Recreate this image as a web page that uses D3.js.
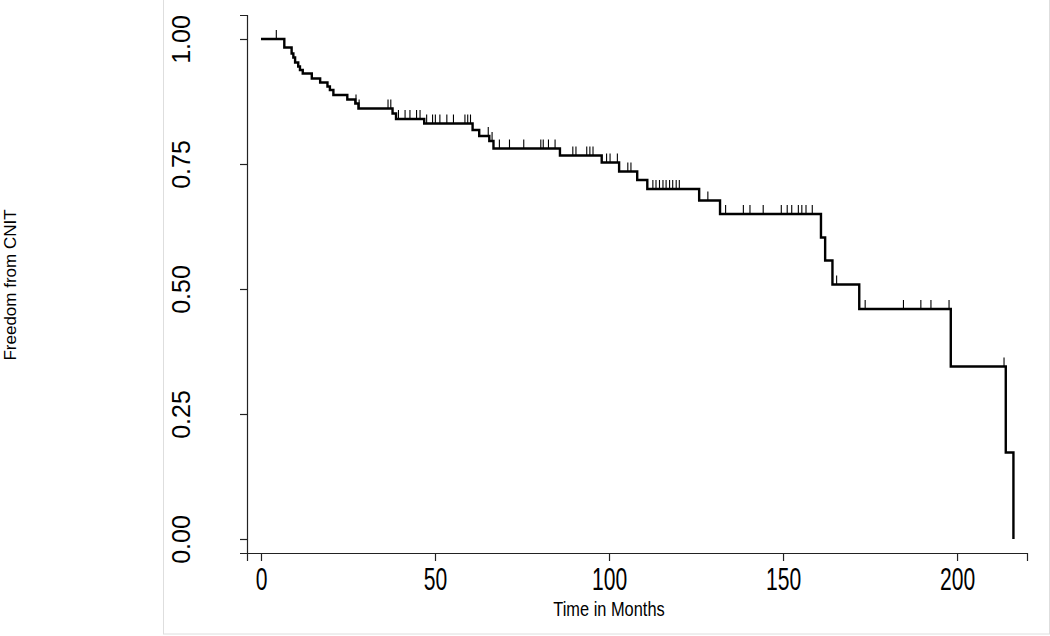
<!DOCTYPE html>
<html>
<head>
<meta charset="utf-8">
<script src="https://cdn.jsdelivr.net/npm/d3@7"></script>
<style>
  html, body { margin: 0; padding: 0; background: #fff; }
  svg { display: block; font-family: "Liberation Sans", Arial, sans-serif; }
</style>
</head>
<body>
<svg id="chart" width="1050" height="636"></svg>
<script>
// --- Data ---
// Kaplan-Meier step times (months) and survival level after each step
const stepTimes = [0, 6.7, 8.8, 9.3, 9.8, 10.7, 11.2, 12.0, 14.6, 17.0, 19.1, 19.8, 20.8,
  24.8, 27.1, 28.0, 37.8, 38.8, 46.9, 60.8, 62.7, 65.6, 66.8, 85.9, 97.9, 102.9,
  108.1, 111.0, 125.9, 131.9, 160.9, 162.1, 164.2, 171.9, 198.2, 214.0, 216.2];
const survival = [1.000, 0.983, 0.971, 0.963, 0.953, 0.945, 0.938, 0.931, 0.921, 0.913, 0.905, 0.898, 0.888,
  0.879, 0.871, 0.861, 0.851, 0.840, 0.831, 0.818, 0.806, 0.796, 0.781, 0.767, 0.753, 0.735,
  0.718, 0.700, 0.677, 0.650, 0.603, 0.557, 0.509, 0.460, 0.345, 0.173, 0.000];

// censored observations (months)
const censorTimes = [4.4, 27.3, 28.2, 36.5, 37.3, 39.5, 41.4, 42.8, 44.7, 45.7,
  47.6, 49.3, 50.1, 51.4, 53.4, 55.3, 58.6, 59.4, 60.2, 65.3, 66.4,
  68.5, 71.4, 75.5, 80.4, 81.1, 82.6, 84.5, 89.6, 90.5, 93.6, 94.5, 95.4,
  99.3, 100.3, 102.4, 105.4, 106.3,
  112.6, 113.5, 114.5, 115.5, 116.4, 117.4, 118.3, 119.3, 120.2, 128.4,
  133.5, 138.6, 140.5, 144.3, 149.5, 151.2, 152.5, 154.4, 155.4, 156.6, 158.4,
  165.4, 173.6, 184.6, 189.6, 192.5, 197.7, 213.5];

const xTicks = [0, 50, 100, 150, 200];
const yTicks = [0, 0.25, 0.5, 0.75, 1];
const yTickLabels = ["0.00", "0.25", "0.50", "0.75", "1.00"];

// --- Setup ---
const svg = d3.select("#chart");

// light frame around the graph region
svg.append("rect")
  .attr("x", 163.5).attr("y", -2)
  .attr("width", 886).attr("height", 636)
  .attr("fill", "none").attr("stroke", "#dedede").attr("stroke-width", 1);

const x = d3.scaleLinear().domain([-4.02, 220.1]).range([247, 1027]);
const y = d3.scaleLinear().domain([-0.028, 1.048]).range([553, 15]);

// --- Axes ---
const xAxis = svg.append("g")
  .attr("transform", "translate(0,553)")
  .call(d3.axisBottom(x).tickValues(xTicks).tickSizeOuter(0).tickSize(8).tickPadding(7));
// the reference has tall, narrow digits on the x axis
xAxis.selectAll("text")
  .attr("font-size", 31).attr("fill", "#000")
  .attr("transform", "scale(0.68,1)");

const yAxis = svg.append("g")
  .attr("transform", "translate(247,0)")
  .call(d3.axisLeft(y).tickValues(yTicks).tickFormat((d, i) => yTickLabels[i])
    .tickSizeOuter(0).tickSize(7));
yAxis.selectAll("text")
  .attr("x", 0).attr("dy", null)
  .attr("transform", "translate(-57,0) rotate(-90)")
  .attr("text-anchor", "middle")
  .attr("font-size", 25).attr("fill", "#000");

svg.selectAll(".domain, .tick line").attr("stroke", "#222").attr("stroke-width", 1.2);

// axis titles
svg.append("text")
  .attr("transform", `translate(${(x(0) + x(200)) / 2},616) scale(0.82,1)`)
  .attr("text-anchor", "middle").attr("font-size", 20)
  .text("Time in Months");

svg.append("text")
  .attr("transform", "translate(16,285) rotate(-90)")
  .attr("text-anchor", "middle").attr("font-size", 17)
  .text("Freedom from CNIT");

// --- KM curve ---
const points = stepTimes.map((t, i) => [t, survival[i]]);
const line = d3.line()
  .x(d => x(d[0]))
  .y(d => y(d[1]))
  .curve(d3.curveStepAfter);

svg.append("path")
  .datum(points)
  .attr("fill", "none")
  .attr("stroke", "#000")
  .attr("stroke-width", 2.4)
  .attr("d", line);

// --- censor marks ---
const bisect = d3.bisector(d => d).right;
const levelAt = t => survival[Math.max(0, bisect(stepTimes, t) - 1)];

svg.append("g").selectAll("line")
  .data(censorTimes)
  .join("line")
  .attr("x1", d => x(d)).attr("x2", d => x(d))
  .attr("y1", d => y(levelAt(d)))
  .attr("y2", d => y(levelAt(d)) - 9)
  .attr("stroke", "#000")
  .attr("stroke-width", 1.1);
</script>
</body>
</html>
